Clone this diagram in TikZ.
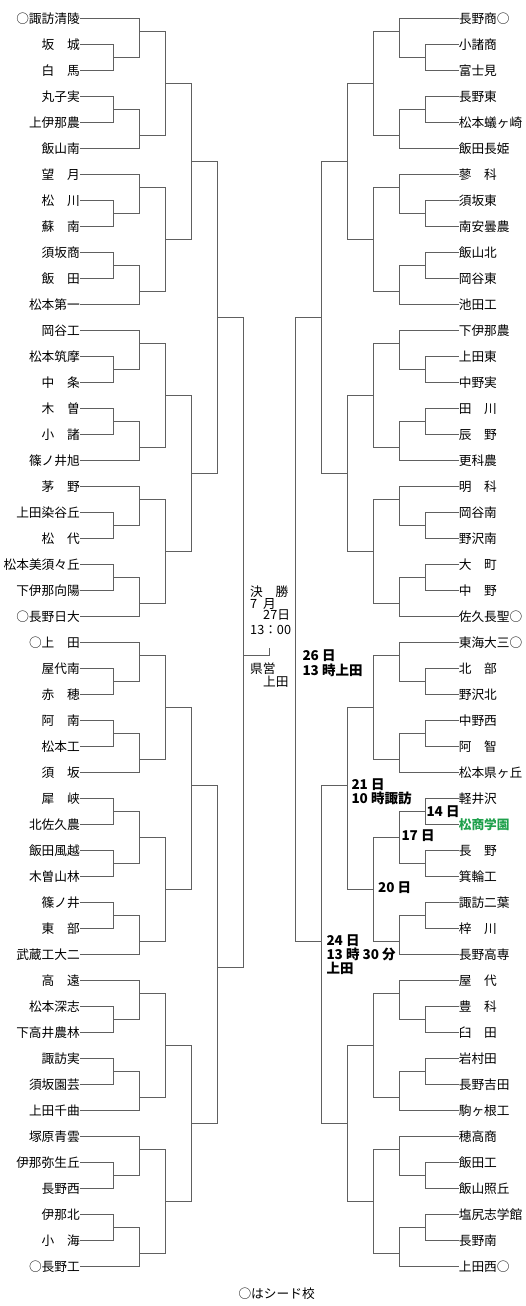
\documentclass[tikz,border=0pt]{standalone}
\usepackage{fontspec}
\setmainfont{Noto Sans CJK JP}
\definecolor{lineg}{RGB}{96,96,96}
\definecolor{shogreen}{RGB}{30,160,75}
\newcommand\colx{0}
\newcommand\coldx{0}
\newcommand\mt[5]{%
  \coordinate (#1) at ({\colx+\coldx*#2},{18.5+26*(#3)});
  \draw[br] (#4) -| (#1);
  \draw[br] (#5) -| (#1);}
\newcommand\side[3]{%
\mt{#1p0}{1}{1.5}{#1-1.#2}{#1-2.#2}
\mt{#1m0}{2}{0.5}{#1-0.#2}{#1p0}
\mt{#1p1}{1}{3.5}{#1-3.#2}{#1-4.#2}
\mt{#1m1}{2}{4.5}{#1p1}{#1-5.#2}
\mt{#1p2}{1}{7.5}{#1-7.#2}{#1-8.#2}
\mt{#1m2}{2}{6.5}{#1-6.#2}{#1p2}
\mt{#1p3}{1}{9.5}{#1-9.#2}{#1-10.#2}
\mt{#1m3}{2}{10.5}{#1p3}{#1-11.#2}
\mt{#1p4}{1}{13.5}{#1-13.#2}{#1-14.#2}
\mt{#1m4}{2}{12.5}{#1-12.#2}{#1p4}
\mt{#1p5}{1}{15.5}{#1-15.#2}{#1-16.#2}
\mt{#1m5}{2}{16.5}{#1p5}{#1-17.#2}
\mt{#1p6}{1}{19.5}{#1-19.#2}{#1-20.#2}
\mt{#1m6}{2}{18.5}{#1-18.#2}{#1p6}
\mt{#1p7}{1}{21.5}{#1-21.#2}{#1-22.#2}
\mt{#1m7}{2}{22.5}{#1p7}{#1-23.#2}
\mt{#1q0}{3}{2.5}{#1m0}{#1m1}
\mt{#1q1}{3}{8.5}{#1m2}{#1m3}
\mt{#1q2}{3}{14.5}{#1m4}{#1m5}
\mt{#1q3}{3}{20.5}{#1m6}{#1m7}
\mt{#1s0}{4}{5.5}{#1q0}{#1q1}
\mt{#1s1}{4}{17.5}{#1q2}{#1q3}
\mt{#1t0}{5}{11.5}{#1s0}{#1s1}
\mt{#1p8}{1}{25.5}{#1-25.#2}{#1-26.#2}
\mt{#1m8}{2}{24.5}{#1-24.#2}{#1p8}
\mt{#1p9}{1}{27.5}{#1-27.#2}{#1-28.#2}
\mt{#1m9}{2}{28.5}{#1p9}{#1-29.#2}
\mt{#1p10}{1}{30.5}{#1-30.#2}{#1-31.#2}
\mt{#1p11}{1}{32.5}{#1-32.#2}{#1-33.#2}
\mt{#1m10}{2}{31.5}{#1p10}{#1p11}
\mt{#1p12}{1}{34.5}{#1-34.#2}{#1-35.#2}
\mt{#1m11}{2}{35.5}{#1p12}{#1-36.#2}
\mt{#1p13}{1}{38.5}{#1-38.#2}{#1-39.#2}
\mt{#1m12}{2}{37.5}{#1-37.#2}{#1p13}
\mt{#1p14}{1}{40.5}{#1-40.#2}{#1-41.#2}
\mt{#1m13}{2}{41.5}{#1p14}{#1-42.#2}
\mt{#1p15}{1}{44.5}{#1-44.#2}{#1-45.#2}
\mt{#1m14}{2}{43.5}{#1-43.#2}{#1p15}
\mt{#1p16}{1}{46.5}{#1-46.#2}{#1-47.#2}
\mt{#1m15}{2}{47.5}{#1p16}{#1-48.#2}
\mt{#1q4}{3}{26.5}{#1m8}{#1m9}
\mt{#1q5}{3}{33.5}{#1m10}{#1m11}
\mt{#1q6}{3}{39.5}{#1m12}{#1m13}
\mt{#1q7}{3}{45.5}{#1m14}{#1m15}
\mt{#1s2}{4}{29.5}{#1q4}{#1q5}
\mt{#1s3}{4}{42.5}{#1q6}{#1q7}
\mt{#1t1}{5}{#3}{#1s2}{#1s3}
\mt{#1f}{6}{24.5}{#1t0}{#1t1}
}
\begin{document}
\begin{tikzpicture}[x=1pt,y=-1pt,
  br/.style={draw=lineg,line width=0.9pt},
  team/.style={inner sep=0pt,font=\fontsize{12.7}{14}\selectfont,text height=11.18pt,text depth=1.52pt},
  lteam/.style={team,anchor=east},
  rteam/.style={team,anchor=west},
  fin/.style={team,anchor=west},
  lab/.style={inner sep=0pt,anchor=west,font=\fontsize{13.5}{14}\selectfont\bfseries,text height=11.88pt,text depth=1.62pt}]
\useasboundingbox (0,0) rectangle (526,1306);
\foreach \i/\t in {0/○諏訪清陵,1/坂　城,2/白　馬,3/丸子実,4/上伊那農,5/飯山南,6/望　月,7/松　川,8/蘇　南,9/須坂商,10/飯　田,11/松本第一,12/岡谷工,13/松本筑摩,14/中　条,15/木　曽,16/小　諸,17/篠ノ井旭,18/茅　野,19/上田染谷丘,20/松　代,21/松本美須々丘,22/下伊那向陽,23/○長野日大,24/○上　田,25/屋代南,26/赤　穂,27/阿　南,28/松本工,29/須　坂,30/犀　峡,31/北佐久農,32/飯田風越,33/木曽山林,34/篠ノ井,35/東　部,36/武蔵工大二,37/高　遠,38/松本深志,39/下高井農林,40/諏訪実,41/須坂園芸,42/上田千曲,43/塚原青雲,44/伊那弥生丘,45/長野西,46/伊那北,47/小　海,48/○長野工}
  \node[lteam] (L-\i) at (80,{18.5+26*\i}) {\t};
\foreach \i/\t in {0/長野商○,1/小諸商,2/富士見,3/長野東,4/松本蟻ヶ崎,5/飯田長姫,6/蓼　科,7/須坂東,8/南安曇農,9/飯山北,10/岡谷東,11/池田工,12/下伊那農,13/上田東,14/中野実,15/田　川,16/辰　野,17/更科農,18/明　科,19/岡谷南,20/野沢南,21/大　町,22/中　野,23/佐久長聖○,24/東海大三○,25/北　部,26/野沢北,27/中野西,28/阿　智,29/松本県ヶ丘,30/軽井沢,31/{\textcolor{shogreen}{\bfseries 松商学園}},32/長　野,33/箕輪工,34/諏訪二葉,35/梓　川,36/長野高専,37/屋　代,38/豊　科,39/臼　田,40/岩村田,41/長野吉田,42/駒ヶ根工,43/穂高商,44/飯田工,45/飯山照丘,46/塩尻志学館,47/長野南,48/上田西○}
  \node[rteam] (R-\i) at (458.6,{18.5+26*\i}) {\t};
\renewcommand\colx{87.3}\renewcommand\coldx{26}
\side{L}{east}{36.5}
\renewcommand\colx{451.3}\renewcommand\coldx{(-26)}
\side{R}{west}{35.5}
\coordinate (fc) at (269.7,655.5);
\coordinate (ftop) at (269.7,648);
\draw[br] (Lf) -- (fc) -- (ftop);
\node[fin] (f1) at (250,591.7) {決　勝};
\node[fin] (f2) at (250,603.3) {7\hspace{6pt}月};
\node[fin] (f3) at (263,615) {27日};
\node[fin] (f4) at (250,630) {13：00};
\node[fin] (f5) at (250,668.3) {県営};
\node[fin] (f6) at (263,681.7) {上田};
\node[lab] (d26a) at (302.3,655) {26 日};
\node[lab] (d26b) at (302.3,670.7) {13 時上田};
\node[lab] (d21a) at (351.3,784) {21 日};
\node[lab] (d21b) at (351.3,798.3) {10 時諏訪};
\node[lab] (d14) at (426.3,811.7) {14 日};
\node[lab] (d17) at (401.3,835.7) {17 日};
\node[lab] (d20) at (378,887.7) {20 日};
\node[lab] (d24a) at (326.3,940) {24 日};
\node[lab] (d24b) at (326.3,954.3) {13 時 30 分};
\node[lab] (d24c) at (326.3,968.3) {上田};
\node[fin] (note) at (238.3,1293.3) {○はシード校};
\end{tikzpicture}
\end{document}
